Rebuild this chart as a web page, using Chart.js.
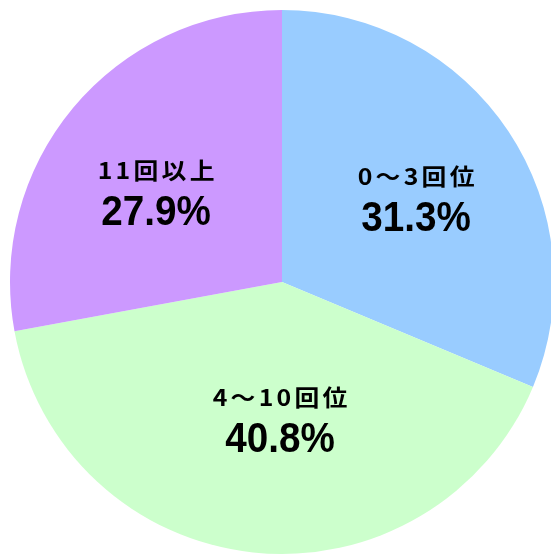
<!DOCTYPE html>
<html>
<head>
<meta charset="utf-8">
<script src="https://cdn.jsdelivr.net/npm/chart.js@4"></script>
<style>
  html, body { margin: 0; padding: 0; background: #fff; overflow: hidden; }
  #wrap { width: 564px; height: 565px; }
</style>
</head>
<body>
<div id="wrap"><canvas id="pie"></canvas></div>
<script>
"use strict";

const categories = ['0～3回位', '4～10回位', '11回以上'];
const shares = [31.3, 40.8, 27.9];
const sliceColors = ['#99ccff', '#ccffcc', '#cc99ff'];

// where each label block sits inside its slice
const labelRadius = [0.585, 0.498, 0.572];
const labelTurn = [1.1, -5.3, -3.8]; // degrees, relative to slice middle

function drawText(ctx, text, x, y, font, spacing, sx, baseline) {
  ctx.save();
  ctx.font = font;
  ctx.letterSpacing = spacing + 'px';
  ctx.textBaseline = baseline;
  ctx.textAlign = 'left';
  ctx.fillStyle = '#000';
  let w = ctx.measureText(text).width - spacing;
  ctx.translate(x, y);
  ctx.scale(sx, 1);
  ctx.fillText(text, -w / 2, 0);
  ctx.restore();
}

const sliceLabels = {
  id: 'sliceLabels',
  afterDatasetsDraw(chart) {
    let ctx = chart.ctx;
    chart.getDatasetMeta(0).data.forEach(function(arc, i) {
      let p = arc.getProps(['x', 'y', 'startAngle', 'endAngle', 'outerRadius'], true);
      let a = (p.startAngle + p.endAngle) / 2 + labelTurn[i] * Math.PI / 180;
      let r = p.outerRadius * labelRadius[i];
      let cx = p.x + Math.cos(a) * r;
      let cy = p.y + Math.sin(a) * r;
      drawText(ctx, categories[i], cx, cy - 20, 'bold 23px "Noto Sans CJK JP"', 3, 1.08, 'middle');
      drawText(ctx, shares[i].toFixed(1) + '%', cx, cy + 34.5, 'bold 42px "Liberation Sans"', 0, 0.92, 'alphabetic');
    });
  }
};

new Chart(document.getElementById('pie'), {
  type: 'pie',
  data: {
    labels: categories,
    datasets: [
      {
        data: shares,
        backgroundColor: sliceColors,
        borderWidth: 0
      }
    ]
  },
  options: {
    responsive: true,
    maintainAspectRatio: false,
    animation: false,
    layout: { padding: { left: 10, right: 10, top: 10, bottom: 11 } },
    plugins: {
      legend: { display: false },
      tooltip: { enabled: false }
    }
  },
  plugins: [sliceLabels]
});
</script>
</body>
</html>
